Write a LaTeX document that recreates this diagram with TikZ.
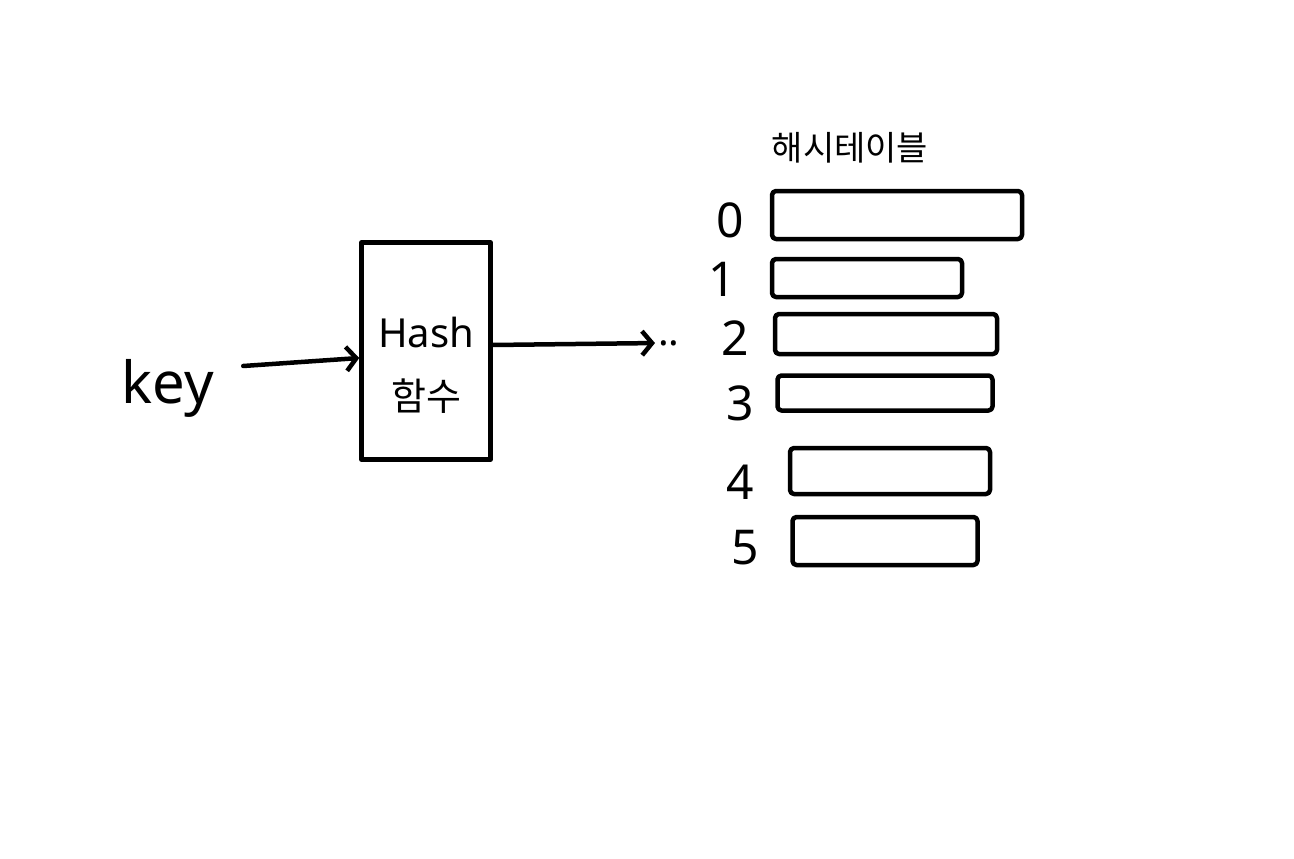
\documentclass[tikz,border=0pt]{standalone}
\usepackage{fontspec}
\setmainfont{Noto Sans}
\newfontfamily\kr{Noto Sans CJK KR}
\usetikzlibrary{arrows.meta, positioning}

\begin{document}
\begin{tikzpicture}[
    x=1pt, y=-1pt,
    pen/.style={line width=4.5pt, line cap=round, line join=round},
    slot/.style={pen, draw, rectangle, rounded corners=4pt, inner sep=0pt},
    idx/.style={font=\fontsize{48}{52}\selectfont, inner sep=0pt},
    arrow/.style={pen, -{Straight Barb[length=10pt, width=24pt, line width=4.5pt]}}
]
    \path[fill=white] (0,0) rectangle (1294,859);

    \node[font=\fontsize{58}{64}\selectfont, inner sep=0pt] (key) at (168,388) {key};
    \node[pen, draw, rectangle, minimum width=129pt, minimum height=217pt] (hash) at (426,351) {};
    \node[font=\fontsize{40}{44}\selectfont, inner sep=0pt] (hashtxt) at (426,332) {Hash};
    \node[font=\kr\fontsize{38}{40}\selectfont, inner sep=0pt] (hashkr) at (426,396) {함수};
    \node[font=\fontsize{40}{44}\selectfont, inner sep=0pt, anchor=west] (dots) at (658,343) {..};

    \node[font=\kr\fontsize{34}{40}\selectfont] (title) at (850,148) {해시테이블};

    \node[slot, minimum width=250pt, minimum height=48pt] (row0) at (897,215) {};
    \node[slot, minimum width=190pt, minimum height=38pt] (row1) at (867,278) {};
    \node[slot, minimum width=222pt, minimum height=40pt] (row2) at (886,334) {};
    \node[slot, minimum width=215pt, minimum height=35pt] (row3) at (885,393) {};
    \node[slot, minimum width=200pt, minimum height=46pt] (row4) at (890,471) {};
    \node[slot, minimum width=185pt, minimum height=48pt] (row5) at (885,541) {};

    \node[idx] (idx0) at (730,220) {0};
    \node[idx] (idx1) at (722,279) {1};
    \node[idx] (idx2) at (735,338) {2};
    \node[idx] (idx3) at (740,403) {3};
    \node[idx] (idx4) at (740,482) {4};
    \node[idx] (idx5) at (745,548) {5};

    \draw[arrow] ([xshift=29pt, yshift=22pt]key.east) -- ([yshift=-7pt]hash.west);
    \draw[arrow, shorten >=3pt] ([yshift=6pt]hash.east) -- (dots.west);
\end{tikzpicture}
\end{document}
